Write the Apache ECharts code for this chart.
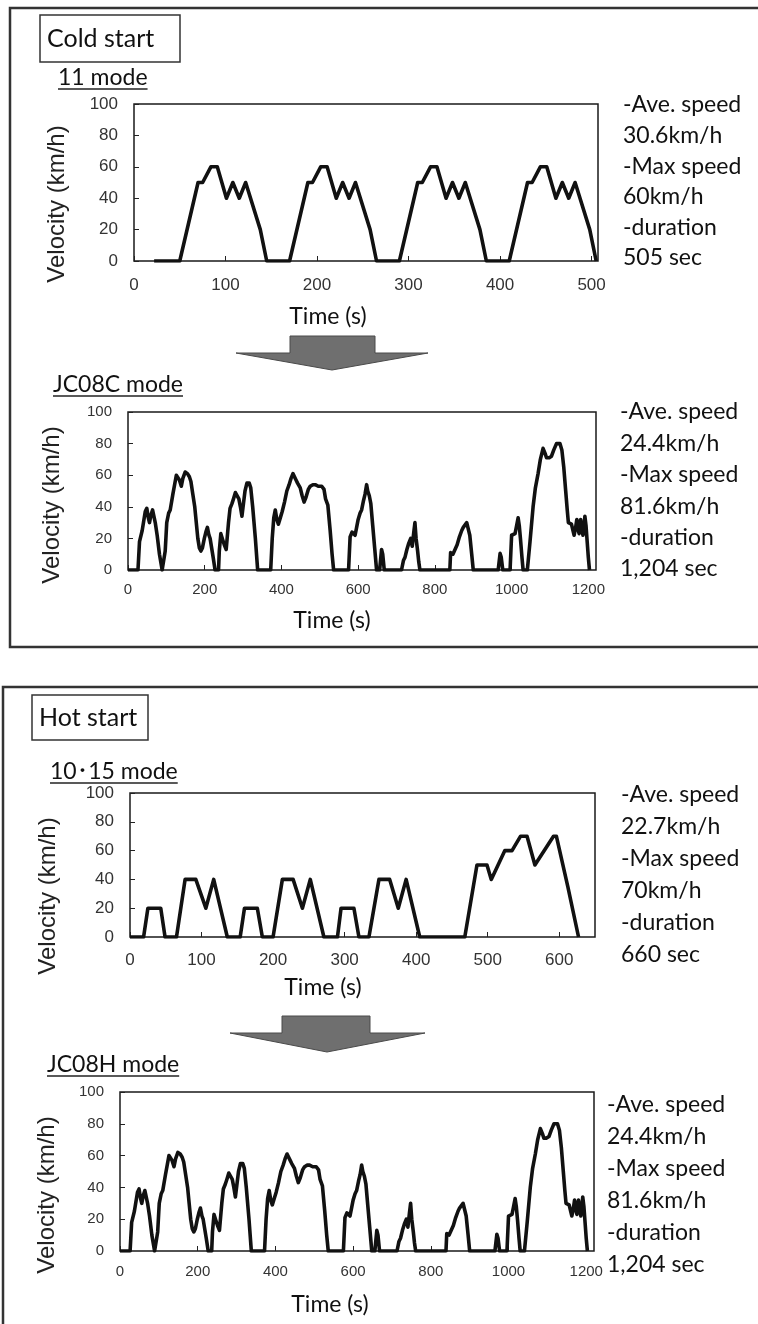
<!DOCTYPE html>
<html>
<head>
<meta charset="utf-8">
<script src="https://cdn.jsdelivr.net/npm/echarts@6/dist/echarts.min.js"></script>
<style>
html,body{margin:0;padding:0;background:#fff;}
#c{width:758px;height:1324px;}
</style>
</head>
<body>
<div id="c"></div>
<script>
// ---- data ----
const yTicks = [0, 20, 40, 60, 80, 100];

const mode11Time = [22,50,70,75,84,91,101,108,115,122,138,145,
  170,190,195,204,211,221,228,235,242,258,265,
  290,310,315,324,331,341,348,355,362,378,385,
  410,430,435,444,451,461,468,475,482,498,505];
const mode11Speed = [0,0,50,50,60,60,40,50,40,50,20,0,
  0,50,50,60,60,40,50,40,50,20,0,
  0,50,50,60,60,40,50,40,50,20,0,
  0,50,50,60,60,40,50,40,50,20,0];

const mode1015Time = [0,19,25,43,49,65,77,92,106,117,136,154,160,178,185,200,213,228,241,252,271,
  290,295,313,320,334,348,363,375,386,405,468,485,499,505,524,534,546,555,566,592,596,612,627];
const mode1015Speed = [0,0,20,20,0,0,40,40,20,40,0,0,20,20,0,0,40,40,20,40,0,
  0,20,20,0,0,40,40,20,40,0,0,50,50,40,60,60,70,70,50,70,70,35,0];

const jc08Time = [0,26,30,37,45,49,53,56,60,64,67,71,76,82,89,93,97,101,106,110,117,126,130,134,139,143,149,155,160,164,169,174,178,182,186,190,194,199,203,207,211,214,218,222,227,
  236,238,242,247,251,256,262,266,271,275,280,284,289,293,297,301,305,310,316,320,325,332,338,
  372,376,380,384,388,392,397,402,408,414,420,425,430,434,438,442,446,449,454,459,464,470,475,482,488,496,505,511,515,521,527,532,536,
  575,579,584,588,592,596,600,605,609,614,618,622,625,629,633,638,643,648,656,661,664,668,
  713,718,722,727,732,737,741,745,748,751,755,758,761,
  839,841,847,852,858,864,870,874,878,883,887,891,896,900,
  965,970,973,977,996,1000,1005,1009,1013,1017,1020,1023,1027,1030,
  1041,1048,1056,1062,1069,1075,1082,1087,1091,1098,1104,1110,1117,1122,1126,1131,1136,1141,1145,1148,1152,1156,1160,1163,1167,1170,1173,1176,1180,1183,1186,1189,1191,1194,1197,1200,1203];
const jc08Speed = [0,0,18,25,37,39,33,30,35,38,39,30,22,10,0,0,12,30,36,38,48,60,61,57,53,58,62,61,59,56,48,40,30,20,14,12,14,20,24,27,22,20,14,8,0,
  0,12,23,19,16,13,30,39,42,45,49,50,45,40,34,42,50,55,55,52,40,20,0,
  0,20,33,38,32,29,33,37,43,50,54,58,61,62,57,55,54,52,47,43,46,51,53,54,54,53,53,51,45,41,25,10,0,
  0,21,24,25,22,27,32,36,38,44,48,54,50,47,42,28,14,0,0,13,10,0,
  0,6,8,13,17,20,15,24,30,20,12,5,0,
  0,11,10,11,16,21,25,27,28,30,30,22,10,0,
  0,10.5,8,0,0,22,21,23,28,33,28,20,8,0,
  0,18,40,52,61,70,77,74,71,71,72,76,80,81,80,76,65,50,38,30,31,29,25,22,27,32,26,23,32,27,22,28,34,28,18,8,0];

const titles = ['11 mode', 'JC08C mode', '10\uff6515 mode', 'JC08H mode'];
const statLines = [
  ['-Ave. speed','30.6km/h','-Max speed','60km/h','-duration','505 sec'],
  ['-Ave. speed','24.4km/h','-Max speed','81.6km/h','-duration','1,204 sec'],
  ['-Ave. speed','22.7km/h','-Max speed','70km/h','-duration','660 sec'],
  ['-Ave. speed','24.4km/h','-Max speed','81.6km/h','-duration','1,204 sec']
];
const xIntervals = [100, 200, 100, 200];
const xMax = [507, 1220, 650, 1220];

function pairs(t, v){ return t.map((x,i)=>[x, v[i]]); }
const seriesData = [pairs(mode11Time, mode11Speed), pairs(jc08Time, jc08Speed), pairs(mode1015Time, mode1015Speed), pairs(jc08Time, jc08Speed)];

// ---- layout ----
const grids = [
  {left:134, top:104, width:464, height:157},
  {left:128, top:412, width:468, height:158},
  {left:130, top:793, width:465, height:144},
  {left:120, top:1092, width:474, height:159}
];
const xLabelMargin = [16, 12, 15, 13];
const tickFont = [17, 15, 17, 15];
const velPos = [[57,204],[52,505],[48,896],[47,1195]];
const timePos = [[328,317],[332,621],[323,988],[330,1305]];
const titlePos = [[58,78],[53,385],[50,772],[47,1065]];
const statPos = [[623,105,30.6],[620,412,31.4],[621,795,32],[607,1105,32]];

const FONT_SANS = 'Lato, "Noto Sans", "Noto Sans CJK JP", sans-serif';
const FONT_AX = '"Liberation Sans", Arial, sans-serif';

const xAxes = grids.map((g,i)=>({
  type:'value', gridIndex:i, min:0, max:xMax[i], interval:xIntervals[i],
  axisLine:{show:false}, splitLine:{show:false},
  axisTick:{show:true, inside:true, length:5, lineStyle:{color:'#222', width:1}},
  axisLabel:{show:true, margin:xLabelMargin[i], color:'#333', fontFamily:FONT_AX, fontSize:tickFont[i],
    showMaxLabel:false,
    formatter:(v)=> (v % xIntervals[i] === 0 ? String(v) : '')}
}));
const yAxes = grids.map((g,i)=>({
  type:'value', gridIndex:i, min:0, max:100, interval:20,
  axisLine:{show:false}, splitLine:{show:false},
  axisTick:{show:true, inside:true, length:5, lineStyle:{color:'#222', width:1}},
  axisLabel:{show:true, margin:16, color:'#333', fontFamily:FONT_AX, fontSize:tickFont[i],
    formatter:(v)=> (yTicks.indexOf(v) >= 0 ? String(v) : '')}
}));

const series = seriesData.map((d,i)=>({
  type:'line', xAxisIndex:i, yAxisIndex:i, data:d, symbol:'none',
  lineStyle:{color:'#111', width:3.6, join:'round'}, animation:false, z:3
}));

const graphic = [];
// panel frames
graphic.push({type:'rect', shape:{x:10, y:8, width:770, height:639}, style:{fill:'none', stroke:'#333', lineWidth:2.5}});
graphic.push({type:'rect', shape:{x:3, y:687, width:780, height:660}, style:{fill:'none', stroke:'#333', lineWidth:2.5}});
// start boxes
graphic.push({type:'rect', shape:{x:40, y:15, width:140, height:47}, style:{fill:'#fff', stroke:'#333', lineWidth:1.5}});
graphic.push({type:'text', x:47, y:39, style:{text:'Cold start', font:'25px '+FONT_SANS, fill:'#111', align:'left', verticalAlign:'middle'}});
graphic.push({type:'rect', shape:{x:32, y:695, width:116, height:45}, style:{fill:'#fff', stroke:'#333', lineWidth:1.5}});
graphic.push({type:'text', x:39, y:718, style:{text:'Hot start', font:'25px '+FONT_SANS, fill:'#111', align:'left', verticalAlign:'middle'}});

titles.forEach((t,i)=>{
  const [x,y] = titlePos[i];
  graphic.push({type:'text', x:x, y:y, style:{text:t, font:'23px '+FONT_SANS, fill:'#111', align:'left', verticalAlign:'middle'}});
});
// arrows
function arrow(rx, ry, rw, rh, bx1, bx2, ax, ay){
  graphic.push({type:'polygon', shape:{points:[[rx,ry],[rx+rw,ry],[rx+rw,ry+rh],[bx2,ry+rh],[ax,ay],[bx1,ry+rh],[rx,ry+rh]]},
    style:{fill:'#6f6f6f', stroke:'#4a4a4a', lineWidth:1}});
}
arrow(290, 336, 85, 17, 236, 428, 332, 370);
arrow(282, 1016, 88, 17, 230, 425, 327, 1052);

for (let i=0;i<4;i++){
  const [vx,vy] = velPos[i];
  graphic.push({type:'text', x:vx, y:vy, rotation:Math.PI/2, style:{text:'Velocity (km/h)', font:'24px '+FONT_AX, fill:'#222', align:'center', verticalAlign:'middle'}});
  const [tx,ty] = timePos[i];
  graphic.push({type:'text', x:tx, y:ty, style:{text:'Time (s)', font:'23px '+FONT_SANS, fill:'#111', align:'center', verticalAlign:'middle'}});
  const [sx,sy,dy] = statPos[i];
  statLines[i].forEach((s,k)=>{
    graphic.push({type:'text', x:sx, y:sy+k*dy, style:{text:s, font:'23px '+FONT_SANS, fill:'#111', align:'left', verticalAlign:'middle'}});
  });
}

const chart = echarts.init(document.getElementById('c'), null, {renderer:'canvas'});
chart.setOption({
  animation:false,
  backgroundColor:'#fff',
  grid: grids.map(g=>Object.assign({show:true, borderColor:'#1a1a1a', borderWidth:1.5, backgroundColor:'transparent', containLabel:false}, g)),
  xAxis: xAxes,
  yAxis: yAxes,
  series: series,
  graphic: graphic
});

// underline titles using measured text width
const extra = [];
titles.forEach((t,i)=>{
  const w = echarts.format.getTextRect ? echarts.format.getTextRect(t, '23px '+FONT_SANS).width : t.length*11;
  const [x,y] = titlePos[i];
  extra.push({type:'line', shape:{x1:x, y1:y+11, x2:x+w, y2:y+11}, style:{stroke:'#222', lineWidth:1.5}});
});
chart.setOption({graphic: graphic.concat(extra)});
</script>
</body>
</html>
